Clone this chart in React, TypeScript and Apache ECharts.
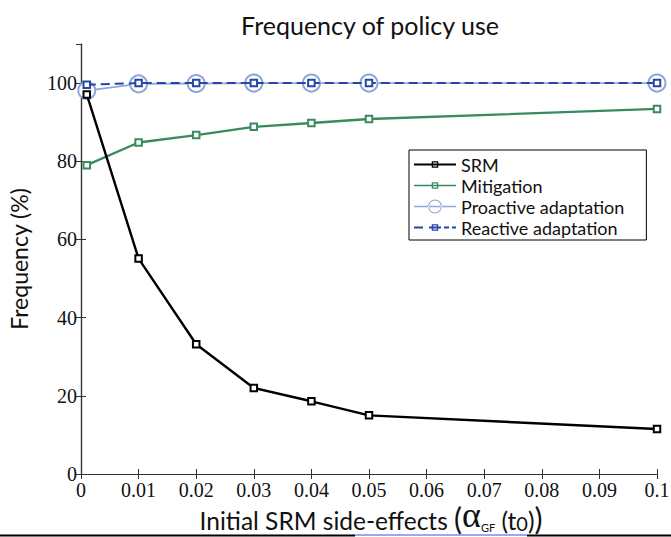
import React, { useEffect, useRef } from "react";
import * as echarts from "echarts";

const xValues = [0.001, 0.01, 0.02, 0.03, 0.04, 0.05, 0.1];
const srm = [97.1, 55.1, 33.2, 22.0, 18.6, 15.0, 11.5];
const mitigation = [79.0, 84.8, 86.7, 88.8, 89.8, 90.8, 93.4];
const proactive = [98.1, 99.8, 99.9, 100, 100, 100, 100];
const reactive = [99.6, 100, 100, 100, 100, 100, 100];
const seriesNames = ["SRM", "Mitigation", "Proactive adaptation", "Reactive adaptation"];
const xTitle = "{a|Initial SRM side-effects }{big|(}{al|α}{sub|GF}{a| (t}{sub0|0}{a|)}{big|)}";

const pair = (ys: number[]) => xValues.map((x, i) => [x, ys[i]]);

// legend icon helpers (42 x 14 box)
const W = 42;
const H = 14;
const rcw = (x0: number, y0: number, x1: number, y1: number) =>
  `M${x0} ${y0} L${x1} ${y0} L${x1} ${y1} L${x0} ${y1} Z `;
const rccw = (x0: number, y0: number, x1: number, y1: number) =>
  `M${x0} ${y0} L${x0} ${y1} L${x1} ${y1} L${x1} ${y0} Z `;
const anchors = `M0 0 L0.01 0 L0 0.01 Z M${W} ${H} L${W - 0.01} ${H} L${W} ${H - 0.01} Z `;
const sq = (cx: number, cy: number, s: number, t: number) =>
  rcw(cx - s / 2, cy - s / 2, cx + s / 2, cy + s / 2) +
  rccw(cx - s / 2 + t, cy - s / 2 + t, cx + s / 2 - t, cy + s / 2 - t);
const ring = (cx: number, cy: number, r: number, t: number) =>
  `M${cx + r} ${cy} A${r} ${r} 0 1 0 ${cx - r} ${cy} A${r} ${r} 0 1 0 ${cx + r} ${cy} Z ` +
  `M${cx + r - t} ${cy} A${r - t} ${r - t} 0 1 1 ${cx - r + t} ${cy} A${r - t} ${r - t} 0 1 1 ${cx + r - t} ${cy} Z `;

const iconSRM = "path://" + anchors + rcw(0, 6, W, 8) + sq(21, 7, 6.5, 1.3);
const iconMit = "path://" + anchors + rcw(0, 6.2, W, 7.8) + sq(21, 7, 6.5, 1.3);
const iconPro = "path://" + anchors + rcw(0, 6.3, W, 7.7) + ring(21, 7, 7, 1.1);
const iconRea =
  "path://" + anchors + rcw(0, 6, 9, 8) + rcw(15, 6, 27, 8) + rcw(30, 6, 35, 8) + rcw(38, 6, W, 8) + sq(21, 7, 6.5, 1.3);

export default function App() {
  const ref = useRef<HTMLDivElement>(null);
  useEffect(() => {
    if (!ref.current) return;
    const chart = echarts.init(ref.current, null, { renderer: "svg" });
    const serif = "Liberation Serif";
    const sans = "Lato";
    const tickLine = { show: true, inside: true, length: 5, lineStyle: { color: "#333", width: 1 } };
    const axisLine = { show: true, lineStyle: { color: "#333", width: 1.2 } };
    chart.setOption({
      animation: false,
      backgroundColor: "#fff",
      title: {
        text: "Frequency of policy use",
        left: 365,
        textAlign: "center",
        top: 7,
        textStyle: { fontFamily: sans, fontSize: 25, fontWeight: "normal", color: "#111" },
      },
      grid: { left: 81, right: 14, top: 44, bottom: 63, containLabel: false, outerBoundsMode: "none" },
      legend: {
        data: [
          { name: seriesNames[0], icon: iconSRM },
          { name: seriesNames[1], icon: iconMit },
          { name: seriesNames[2], icon: iconPro },
          { name: seriesNames[3], icon: iconRea },
        ],
        orient: "vertical",
        left: 409,
        top: 150,
        padding: [4, 22, 2, 5],
        itemGap: 0,
        itemWidth: W,
        itemHeight: H,
        symbolKeepAspect: true,
        itemStyle: { borderWidth: 0 },
        borderColor: "#000",
        borderWidth: 1,
        borderRadius: 0,
        backgroundColor: "#fff",
        textStyle: { fontFamily: sans, fontSize: 18, lineHeight: 21, color: "#111", padding: [0, 0, 0, 0] },
      },
      xAxis: [
        {
          type: "value",
          min: 0,
          max: 0.1,
          interval: 0.01,
          position: "bottom",
          axisLine,
          axisTick: tickLine,
          splitLine: { show: false },
          axisLabel: {
            fontFamily: serif,
            fontSize: 20,
            color: "#111",
            margin: 6,
            formatter: (v: number) => String(Math.round(v * 100) / 100),
          },
        },
        {
          type: "value",
          min: 0,
          max: 0.1,
          interval: 0.01,
          position: "top",
          axisLine,
          axisTick: tickLine,
          axisLabel: { show: false },
          splitLine: { show: false },
        },
      ],
      yAxis: [
        {
          type: "value",
          min: 0,
          max: 110,
          interval: 20,
          axisLine,
          axisTick: tickLine,
          splitLine: { show: false },
          axisLabel: { fontFamily: serif, fontSize: 20, color: "#111", margin: 4, showMaxLabel: false },
          name: "Frequency (%)",
          nameLocation: "middle",
          nameGap: 51,
          nameTextStyle: { fontFamily: sans, fontSize: 23, color: "#111" },
        },
        {
          type: "value",
          min: 0,
          max: 110,
          interval: 20,
          position: "right",
          axisLine,
          axisTick: tickLine,
          axisLabel: { show: false },
          splitLine: { show: false },
        },
      ],
      series: [
        {
          name: "SRM",
          type: "line",
          data: pair(srm),
          symbol: "emptyRect",
          symbolSize: 6.5,
          color: "#000",
          lineStyle: { color: "#000", width: 2.4 },
          itemStyle: { color: "#000", borderWidth: 1.5 },
          z: 4,
        },
        {
          name: "Mitigation",
          type: "line",
          data: pair(mitigation),
          symbol: "emptyRect",
          symbolSize: 6.5,
          color: "#3a8a60",
          lineStyle: { color: "#3a8a60", width: 2.4 },
          itemStyle: { color: "#3a8a60", borderWidth: 1.5 },
          z: 3,
        },
        {
          name: "Proactive adaptation",
          type: "line",
          data: pair(proactive),
          symbol: "emptyCircle",
          symbolSize: 17,
          color: "#8fa6d6",
          lineStyle: { color: "#8fa6d6", width: 1.8 },
          itemStyle: { color: "#8fa6d6", borderWidth: 1.6 },
          z: 2,
        },
        {
          name: "Reactive adaptation",
          type: "line",
          data: pair(reactive),
          symbol: "emptyRect",
          symbolSize: 6.5,
          color: "#2546a8",
          lineStyle: { color: "#2546a8", width: 2, type: [9, 5] },
          itemStyle: { color: "#2546a8", borderWidth: 1.5 },
          z: 5,
        },
      ],
      graphic: [
        {
          type: "text",
          x: 371,
          y: 533,
          z: 10,
          style: {
            text: xTitle,
            align: "center",
            verticalAlign: "bottom",
            rich: {
              a: { fontFamily: sans, fontSize: 24.5, lineHeight: 25, verticalAlign: "bottom", fill: "#111" },
              big: { fontFamily: sans, fontSize: 30, lineHeight: 30, verticalAlign: "bottom", fill: "#111" },
              al: { fontFamily: serif, fontSize: 36, lineHeight: 34, verticalAlign: "bottom", fill: "#111" },
              sub: { fontFamily: sans, fontSize: 11, lineHeight: 11, verticalAlign: "bottom", fill: "#111" },
              sub0: { fontFamily: sans, fontSize: 20, lineHeight: 19, verticalAlign: "bottom", fill: "#111" },
            },
          },
        },
        { type: "line", shape: { x1: 0, y1: 535.5, x2: 355, y2: 535.5 }, style: { stroke: "#000", lineWidth: 2 } },
        { type: "line", shape: { x1: 527, y1: 535.5, x2: 671, y2: 535.5 }, style: { stroke: "#000", lineWidth: 2 } },
        { type: "line", shape: { x1: 355, y1: 535, x2: 527, y2: 535 }, style: { stroke: "#3355dd", lineWidth: 1 } },
      ],
    });
    return () => chart.dispose();
  }, []);
  return (
    <div
      ref={ref}
      style={{ position: "absolute", left: 0, top: 0, width: 671, height: 537, background: "#fff" }}
    />
  );
}
